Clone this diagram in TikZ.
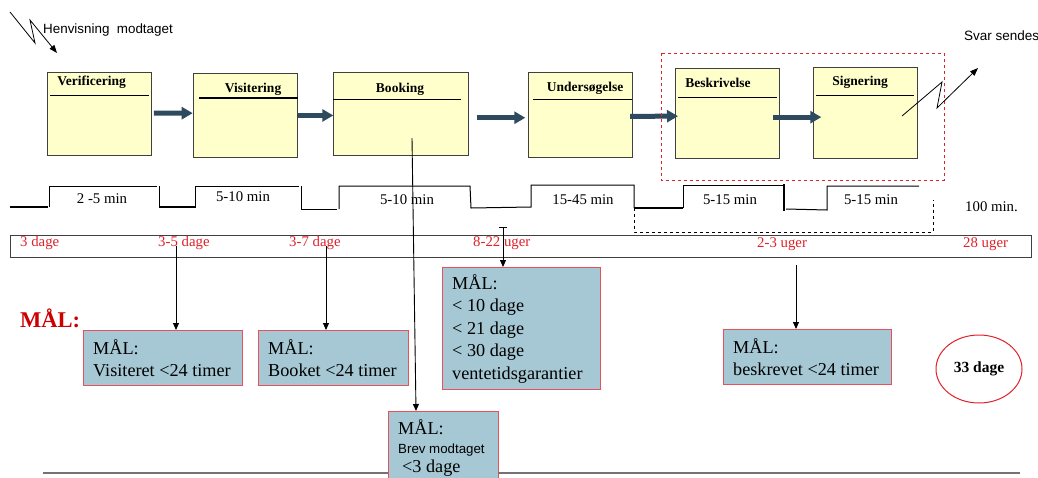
\documentclass[tikz,border=0pt]{standalone}
\usepackage{fontspec}
\setmainfont{Liberation Serif}
\newfontfamily\arialf{Liberation Sans}
\usetikzlibrary{arrows.meta,calc,shapes.geometric}
\definecolor{boxyellow}{HTML}{FFFFCC}
\definecolor{arrowblue}{HTML}{2E4A5E}
\definecolor{goalblue}{HTML}{A5C8D4}
\definecolor{goalred}{HTML}{E8505A}
\definecolor{tlred}{HTML}{E0202A}
\definecolor{malred}{HTML}{CC0000}
\begin{document}
\begin{tikzpicture}[x=1pt,y=-1pt,
  proc/.style={draw=black!75, fill=boxyellow, line width=0.9pt, inner sep=0pt, anchor=north west},
  ttl/.style={font=\fontsize{13.5}{15}\selectfont\bfseries, inner sep=0pt, anchor=base},
  tline/.style={line width=1pt, black},
  blk/.style={draw=arrowblue, line width=5pt, -{Triangle[length=11pt,width=12pt]}},
  arr/.style={line width=0.9pt, black, -{Triangle[length=7pt,width=6pt]}},
  goal/.style={draw=goalred, fill=goalblue, line width=1pt, anchor=north west, inner sep=0pt},
  goaltxt/.style={anchor=west, inner sep=0pt, align=left, font=\fontsize{18.2}{22.5}\selectfont},
  steplbl/.style={font=\fontsize{14.8}{16}\selectfont, inner sep=0pt},
  tllbl/.style={font=\fontsize{14.8}{16}\selectfont, text=tlred, inner sep=0pt, anchor=west},
  sanslbl/.style={font=\arialf\fontsize{13.4}{14}\selectfont, inner sep=0pt, anchor=west}
]
\useasboundingbox (0,0) rectangle (1038,477);
\clip (0,0) rectangle (1038,477);

% process boxes
\node[proc, minimum width=104.3pt, minimum height=83.3pt] (ver) at (46.7,71.7) {};
\node[proc, minimum width=104pt, minimum height=83.4pt] (vis) at (192.7,73.3) {};
\node[proc, minimum width=134.4pt, minimum height=83pt] (book) at (333.3,72.3) {};
\node[proc, minimum width=104pt, minimum height=84.4pt] (und) at (528.3,72.3) {};
\node[proc, minimum width=104.3pt, minimum height=90pt] (bes) at (675,68.3) {};
\node[proc, minimum width=104pt, minimum height=91.6pt] (sig) at (813.3,66.7) {};

% titles
\node[ttl] (tver) at (91.5,85) {Verificering};
\node[ttl] (tvis) at (253,92) {Visitering};
\node[ttl] (tbook) at (400,92) {Booking};
\node[ttl] (tund) at (585,91) {Undersøgelse};
\node[ttl] (tbes) at (718,87) {Beskrivelse};
\node[ttl] (tsig) at (860,85) {Signering};
\draw[line width=0.9pt] (50,95.7) -- (149,95.7);
\draw[line width=1.6pt] (199,97.7) -- (298,97.7);
\draw[line width=0.9pt] (333.3,99.7) -- (461,99.7);
\draw[line width=0.9pt] (533,99.3) -- (632,99.3);
\draw[line width=0.9pt] (678,97.3) -- (777,97.3);
\draw[line width=0.9pt] (816,95.3) -- (914,95.3);

% block arrows
\draw[blk] ($(ver.east)+(2,-0.6)$) -- ($(vis.west)+(0,-2.3)$);
\draw[blk] ($(vis.east)+(0,0)$) -- ($(book.west)+(0,1.2)$);
\draw[blk] ($(book.east)+(8,3.5)$) -- ($(und.west)+(-3,2.8)$);
\draw[blk] ($(und.east)+(-3,1.4)$) -- ($(bes.west)+(3,2.4)$);
\draw[blk] ($(bes.east)+(-7,3.4)$) -- ($(sig.west)+(8,4.2)$);

% red dashed group
\draw[tlred, dashed, line width=0.9pt] (661,53) rectangle (944,180);

% lightning arrows
\coordinate (h0) at (10,12);
\coordinate (h1) at (35,43);
\coordinate (h2) at (30,20);
\coordinate (h3) at (57,53);
\draw[line width=0.8pt, -{Triangle[length=8pt,width=6pt]}] (h0) -- (h1) -- (h2) -- (h3);
\node[sanslbl] (henv) at (43,30) {Henvisning\ \ modtaget};
\coordinate (s0) at (902,116);
\coordinate (s1) at (942,82);
\coordinate (s2) at (937,108);
\coordinate (s3) at (978,68);
\draw[line width=0.8pt, -{Triangle[length=8pt,width=6pt]}] (s0) -- (s1) -- (s2) -- (s3);
\node[sanslbl, font=\arialf\fontsize{13.5}{14}\selectfont] (svar) at (964,36) {Svar sendes};

% step timeline
\draw[line width=2pt] (10,207) -- (48,207);
\draw[tline] (49,207) -- (49,186) -- (157,186);
\draw[tline] (159,186) -- (159,208);
\draw[line width=2pt] (159,207) -- (195,207);
\draw[tline] (195,208) -- (195,186) -- (299,186);
\draw[tline] (301,186) -- (301,209) -- (337,209);
\draw[tline] (339,209) -- (339,186) -- (470,186) -- (471,208) -- (531,207) -- (531,185) -- (634,185) -- (634,208);
\draw[line width=2pt] (634,207.5) -- (683,207.5);
\draw[tline] (683,208) -- (683,185) -- (784,185);
\draw[line width=2pt] (784,184) -- (784,211);
\draw[tline] (786,209) -- (827,210) -- (827,186) -- (919,186);
\draw[black, dashed, line width=0.8pt] (634,208) -- (634,232) -- (933,232) -- (933,200);

\node[steplbl] (m1) at (102,199) {2 -5 min};
\node[steplbl] (m2) at (243,197) {5-10 min};
\node[steplbl] (m3) at (407,200) {5-10 min};
\node[steplbl] (m4) at (583,200) {15-45 min};
\node[steplbl] (m5) at (730,200) {5-15 min};
\node[steplbl] (m6) at (871,200) {5-15 min};
\node[steplbl, anchor=west] (m7) at (965,207) {100 min.};

% day timeline
\draw[black!75, line width=1pt] (10,235) rectangle (1031,257);
\node[tllbl] (d1) at (20,243) {3 dage};
\node[tllbl] (d2) at (158,243) {3-5 dage};
\node[tllbl] (d3) at (289,243) {3-7 dage};
\node[tllbl] (d4) at (473,243) {8-22 uger};
\node[tllbl] (d5) at (757,244) {2-3 uger};
\node[tllbl] (d6) at (963,244) {28 uger};

% goal label
\node[font=\fontsize{22.5}{24}\selectfont\bfseries, text=malred, inner sep=0pt, anchor=west] (mal) at (20,318) {MÅL:};

% goal boxes
\node[goal, minimum width=159pt, minimum height=55pt] (g1) at (83,330) {};
\node[goaltxt] at ($(g1.west)+(10,0)$) {MÅL:\\Visiteret <24 timer};
\node[goal, minimum width=150pt, minimum height=55pt] (g2) at (258,330) {};
\node[goaltxt] at ($(g2.west)+(10,0)$) {MÅL:\\Booket <24 timer};
\node[goal, minimum width=158pt, minimum height=122pt] (g3) at (442,267) {};
\node[goaltxt] at ($(g3.west)+(10,0)$) {MÅL:\\< 10 dage\\< 21 dage\\< 30 dage\\ventetidsgarantier};
\node[goal, minimum width=110pt, minimum height=80pt] (g4) at (388,411) {};
\node[inner sep=0pt, anchor=base west, font=\fontsize{18.2}{22.5}\selectfont] (g4a) at (398,434) {MÅL:};
\node[inner sep=0pt, anchor=base west, font=\arialf\fontsize{13.3}{14}\selectfont] (g4b) at (398,453) {Brev modtaget};
\node[inner sep=0pt, anchor=base west, font=\fontsize{18.2}{22.5}\selectfont] (g4c) at (402,472) {<3 dage};
\node[goal, minimum width=168pt, minimum height=55pt] (g5) at (723,329) {};
\node[goaltxt] at ($(g5.west)+(10,0)$) {MÅL:\\beskrevet <24 timer};

% total ellipse
\node[draw=tlred, line width=1pt, ellipse, minimum width=86pt, minimum height=68pt, font=\fontsize{15.5}{17}\selectfont\bfseries, inner sep=0pt] (tot) at (979,369) {33 dage};

% vertical arrows
\coordinate (t1) at (176,246);
\coordinate (t2) at (326,246);
\coordinate (t3) at (503,227);
\coordinate (t4) at (796,265);
\coordinate (bk) at (412,138);
\draw[arr] (t1) -- (t1 |- g1.north);
\draw[arr] (t2) -- (t2 |- g2.north);
\draw[arr] (t3) -- (t3 |- g3.north);
\draw[arr] (t4) -- (t4 |- g5.north);
\draw[arr] (bk) -- ($(g4.north west)+(28,0)$);
\draw[line width=0.8pt] (499,227) -- (507,227);

% bottom rule
\draw[black!55, line width=1.5pt] (43,473) -- (388,473);
\draw[black!55, line width=1.5pt] (498,473) -- (1020,473);
\end{tikzpicture}
\end{document}
